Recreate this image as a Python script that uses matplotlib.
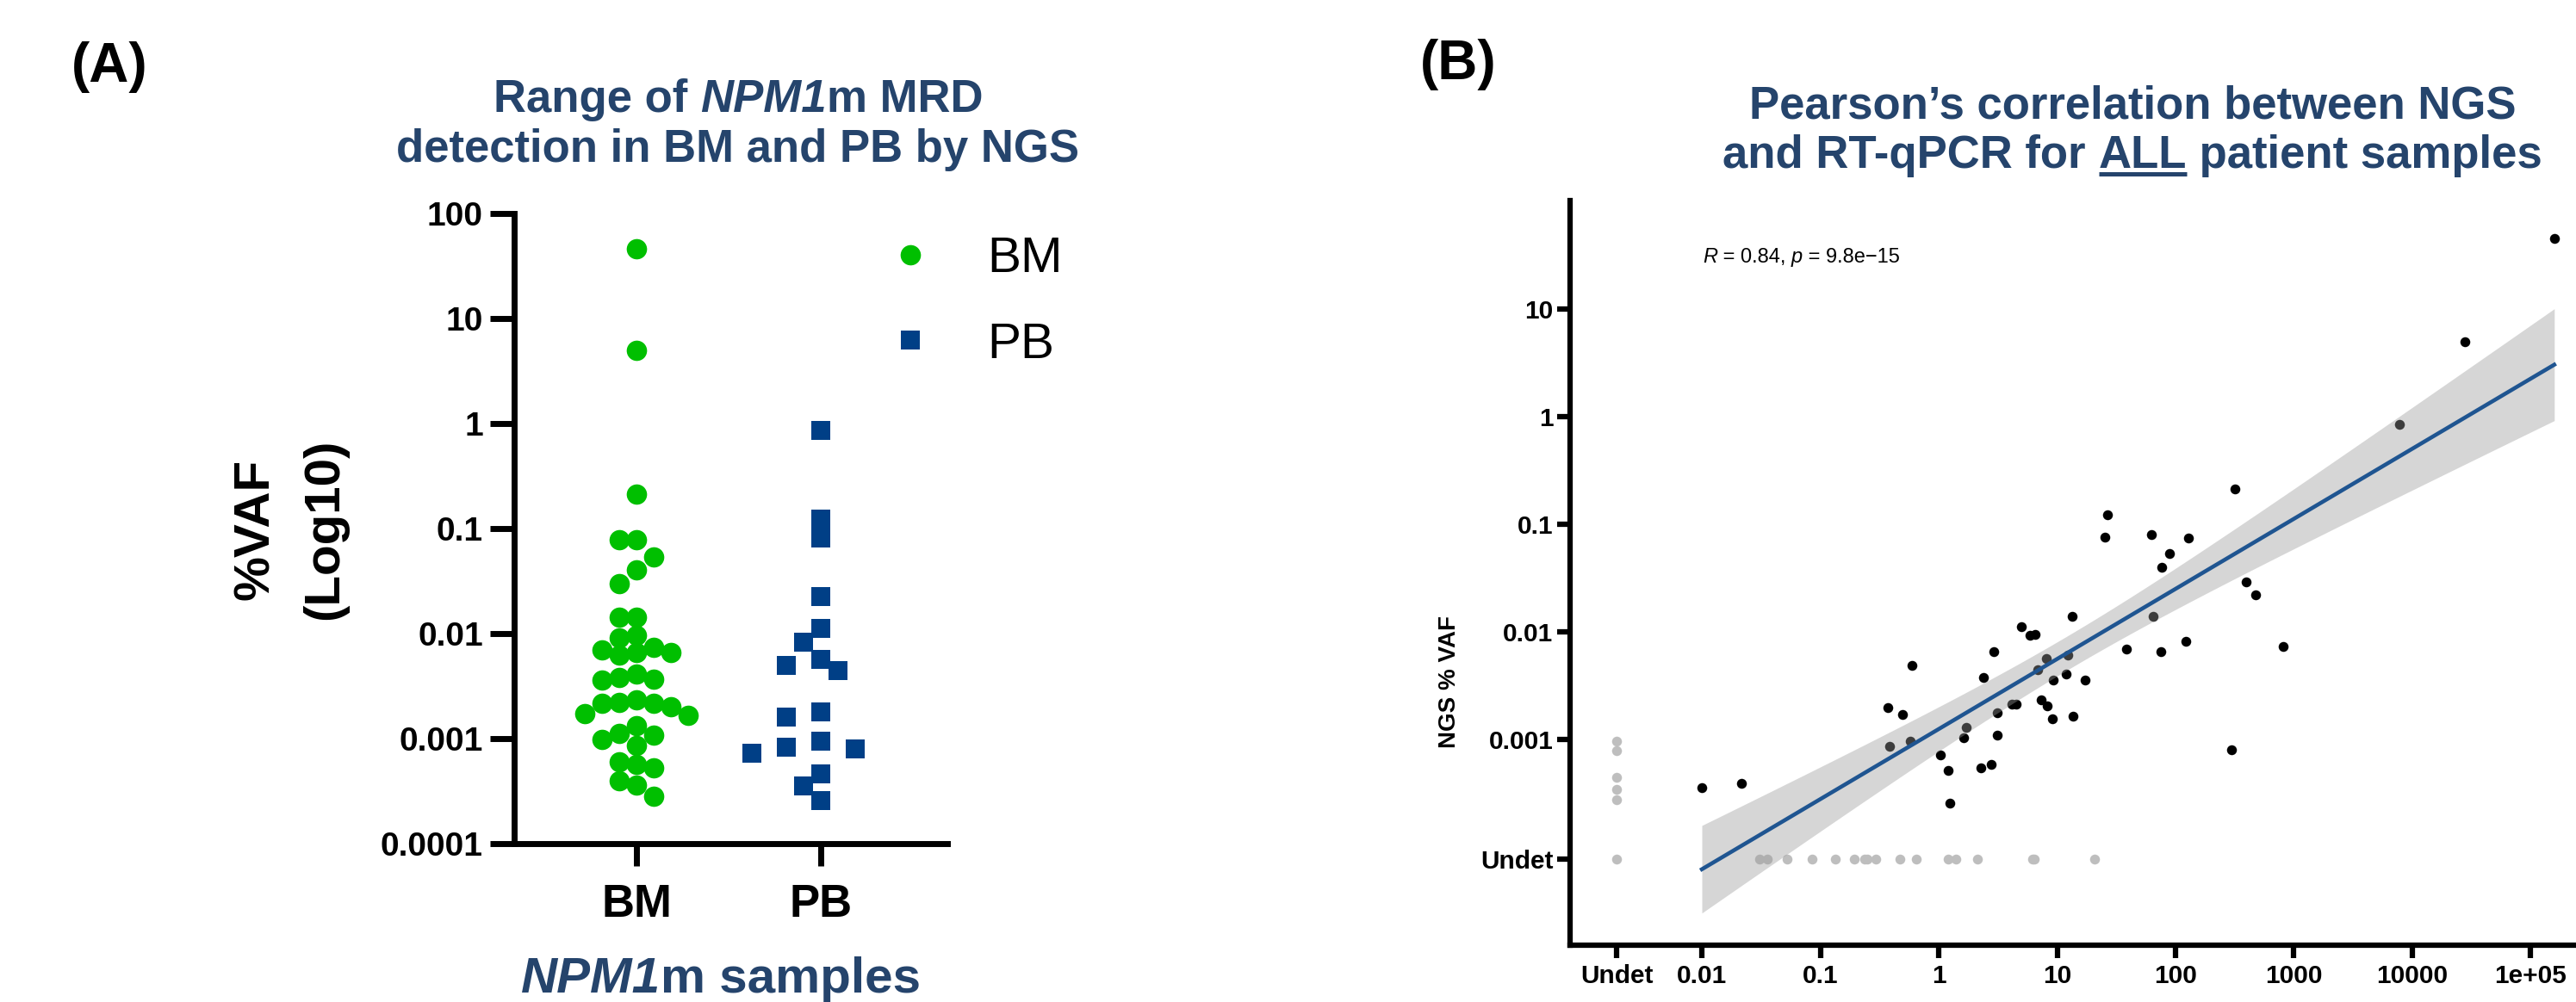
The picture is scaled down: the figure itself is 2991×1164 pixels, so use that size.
import numpy as np
import matplotlib
matplotlib.use("Agg")
import matplotlib.pyplot as plt
from matplotlib.lines import Line2D

plt.rcParams['font.family'] = ['Liberation Sans', 'DejaVu Sans']

W, H, DPI = 2991, 1164, 100

# ---------------- Panel A data (%VAF by NGS) ----------------
groups = ["BM", "PB"]
bm_vaf = [45.8, 4.94, 0.211, 0.0787, 0.0787, 0.054, 0.0407, 0.0297, 0.0142, 0.0142,
          0.00957, 0.00916, 0.00744, 0.00699, 0.00656, 0.00656, 0.00623,
          0.00409, 0.00379, 0.00365, 0.00360,
          0.00232, 0.00221, 0.00215, 0.00202, 0.00174, 0.00167, 0.00215,
          0.00132, 0.00111, 0.00108, 0.00099, 0.000865,
          0.000601, 0.000564, 0.000523, 0.000399, 0.000359, 0.000283]
pb_vaf = [0.859, 0.124, 0.0813, 0.0224, 0.0112, 0.00834, 0.00572, 0.00501, 0.00442,
          0.00178, 0.00159, 0.000944, 0.000822, 0.000798, 0.000726, 0.000458,
          0.000352, 0.000257]
yticks_a = [100, 10, 1, 0.1, 0.01, 0.001, 0.0001]
ytick_labels_a = ["100", "10", "1", "0.1", "0.01", "0.001", "0.0001"]

# ---------------- Panel B data (RT-qPCR vs NGS %VAF) ----------------
qpcr_det = [158000, 27700, 7780, 315, 26.7, 25.3, 62.5, 129, 89.3, 76.7, 395, 478, 65, 13.3,
            4.98, 5.87, 6.5, 2.92, 0.595, 38.6, 74.7, 123, 807, 8.07, 12.4, 6.84, 2.38, 12.0,
            9.3, 17.1, 0.372, 0.492, 7.3, 8.28, 4.17, 4.5, 3.11, 9.16, 13.6, 1.71, 1.63, 3.11,
            0.58, 0.386, 1.04, 1.21, 2.26, 2.77, 1.24, 296, 0.01, 0.0216]
ngs_det = [45.3, 5.0, 0.853, 0.211, 0.123, 0.0759, 0.0807, 0.074, 0.0531, 0.040, 0.0293, 0.0222,
           0.0140, 0.0140, 0.0111, 0.00924, 0.0095, 0.0065, 0.0049, 0.00688, 0.0065, 0.00816,
           0.00735, 0.00565, 0.00612, 0.00442, 0.00379, 0.00403, 0.00356, 0.00356, 0.00199,
           0.00171, 0.00232, 0.00207, 0.00214, 0.00214, 0.00176, 0.00156, 0.00165, 0.00129,
           0.00104, 0.00109, 0.000964, 0.000858, 0.000722, 0.000512, 0.000548, 0.00059,
           0.000254, 0.000807, 0.000355, 0.000388]
# NGS %VAF of samples with undetected RT-qPCR
ngs_qpcr_undet = [0.000964, 0.000787, 0.000445, 0.000344, 0.000275]
# RT-qPCR values of samples with undetected NGS
qpcr_ngs_undet = [0.0307, 0.0358, 0.0524, 0.0849, 0.133, 0.194, 0.235, 0.251, 0.292, 0.473,
                  0.650, 1.20, 1.40, 2.12, 6.18, 6.43, 20.7]
n_both_undet = 1
xticks_b = [0.01, 0.1, 1, 10, 100, 1000, 10000, 100000]
xtick_labels_b = ["0.01", "0.1", "1", "10", "100", "1000", "10000", "1e+05"]
yticks_b = [0.001, 0.01, 0.1, 1, 10]
ytick_labels_b = ["0.001", "0.01", "0.1", "1", "10"]
r_text = ("R", " = 0.84, ", "p", " = 9.8e\u221215")

# placement of the "Undet" category on the log axes
UNDET_X = 10 ** -2.72
UNDET_Y = 10 ** -4.112

GREEN = "#00BF00"
BLUE = "#003F86"
NAVY = "#25446C"

fig = plt.figure(figsize=(W / DPI, H / DPI), dpi=DPI)
renderer = fig.canvas.get_renderer()


def fx(px):
    return px / W


def fy(py):
    return 1 - py / H


def seg_text(x_px, base_px, segs, size, color, ha="center"):
    """segs: list of (text, bold, italic). Returns list of (x_start_px, width_px)."""
    items = []
    for s, b, it in segs:
        kw = dict(fontsize=size, fontweight="bold" if b else "normal",
                  fontstyle="italic" if it else "normal", color=color)
        m = fig.text(0, 0, "|" + s + "|", **kw)
        mb = fig.text(0, 0, "||", **kw)
        w = m.get_window_extent(renderer).width - mb.get_window_extent(renderer).width
        m.remove(); mb.remove()
        t = fig.text(0, 0, s, va="baseline", ha="left", **kw)
        items.append((t, w))
    total = sum(w for _, w in items)
    x0 = x_px - total / 2 if ha == "center" else x_px
    out = []
    for t, w in items:
        t.set_position((fx(x0), fy(base_px)))
        out.append((x0, w))
        x0 += w
    return out


# ======================= Panel A =======================
axA = fig.add_axes([fx(597), fy(980), fx(1100) - fx(597), fy(248) - fy(980)])
axA.set_yscale("log")
axA.set_ylim(1e-4, 100)
axA.set_xlim(-0.662, 1.683)
for s in ["top", "right"]:
    axA.spines[s].set_visible(False)
for s in ["left", "bottom"]:
    axA.spines[s].set_linewidth(5)
    axA.spines[s].set_capstyle("projecting")
axA.set_yticks(yticks_a)
axA.set_yticklabels(ytick_labels_a, fontsize=28, fontweight="bold")
axA.yaxis.set_minor_locator(matplotlib.ticker.NullLocator())
axA.set_xticks([0, 1])
axA.set_xticklabels(groups, fontsize=38, fontweight="bold")
axA.tick_params(axis="y", length=20, width=5, pad=6)
axA.tick_params(axis="x", length=19, width=5, pad=14)

px_per_unit = axA.transData.transform((1, 1))[0] - axA.transData.transform((0, 1))[0]


def swarm(vals, step, min_dist):
    ypix = np.array([axA.transData.transform((0, v))[1] for v in vals])
    order = np.argsort(-ypix)
    placed = []
    offs = np.zeros(len(vals))
    for i in order:
        for k in [0, -1, 1, -2, 2, -3, 3, -4, 4, -5, 5]:
            x = k * step
            if all((x - px) ** 2 + (ypix[i] - py) ** 2 >= min_dist ** 2 for px, py in placed):
                break
        offs[i] = x
        placed.append((x, ypix[i]))
    return offs / px_per_unit


bm_x = 0 + swarm(bm_vaf, 20, 20)
pb_x = 1 + swarm(pb_vaf, 20, 22)
axA.scatter(bm_x, bm_vaf, s=17 ** 2, marker="o", color=GREEN, linewidths=0, zorder=3, clip_on=False)
axA.scatter(pb_x, pb_vaf, s=16 ** 2, marker="s", color=BLUE, linewidths=0, zorder=3, clip_on=False)

handles = [Line2D([], [], marker="o", ls="none", color=GREEN, markersize=17, markeredgewidth=0),
           Line2D([], [], marker="s", ls="none", color=BLUE, markersize=16, markeredgewidth=0)]
fig.legend(handles, groups, loc="upper left", bbox_to_anchor=(fx(1028), fy(274)),
           frameon=False, fontsize=42, handlelength=1.0, handletextpad=1.03,
           labelspacing=0.78, borderpad=0, borderaxespad=0)

fig.text(fx(297), fy(615), "%VAF", rotation=90, ha="center", va="center", fontsize=42, fontweight="bold")
fig.text(fx(377), fy(615), "(Log10)", rotation=90, ha="center", va="center", fontsize=42, fontweight="bold")

seg_text(837, 1153, [("NPM1", True, True), ("m samples", True, False)], 42, NAVY)
seg_text(857, 130, [("Range of ", True, False), ("NPM1", True, True), ("m MRD", True, False)], 38, NAVY)
seg_text(857, 188, [("detection in BM and PB by NGS", True, False)], 38, NAVY)
fig.text(fx(127), fy(78), "(A)", ha="center", va="center", fontsize=46, fontweight="bold")

# ======================= Panel B =======================
axB = fig.add_axes([fx(1823), fy(1098), 1 - fx(1823), fy(233) - fy(1098)])
axB.set_xscale("log")
axB.set_yscale("log")
axB.set_xlim(10 ** -3.113, 10 ** 5.382)
axB.set_ylim(10 ** -4.912, 10 ** 2.008)
for s in ["top", "right"]:
    axB.spines[s].set_visible(False)
for s in ["left", "bottom"]:
    axB.spines[s].set_linewidth(4.5)
    axB.spines[s].set_capstyle("projecting")
axB.set_xticks([UNDET_X] + xticks_b)
axB.set_xticklabels(["Undet"] + xtick_labels_b, fontsize=21.5, fontweight="bold")
axB.set_yticks([UNDET_Y] + yticks_b)
axB.set_yticklabels(["Undet"] + ytick_labels_b, fontsize=21.5, fontweight="bold")
axB.xaxis.set_minor_locator(matplotlib.ticker.NullLocator())
axB.yaxis.set_minor_locator(matplotlib.ticker.NullLocator())
axB.tick_params(axis="both", length=11, width=4.5)
axB.tick_params(axis="y", pad=3)
axB.tick_params(axis="x", pad=5)

GREY_PT = "#BEBEBE"
axB.scatter([UNDET_X] * len(ngs_qpcr_undet), ngs_qpcr_undet, s=8.3 ** 2, color=GREY_PT, linewidths=0, zorder=2)
axB.scatter(qpcr_ngs_undet, [UNDET_Y] * len(qpcr_ngs_undet), s=8.3 ** 2, color=GREY_PT, linewidths=0, zorder=2)
axB.scatter([UNDET_X] * n_both_undet, [UNDET_Y] * n_both_undet, s=8.3 ** 2, color=GREY_PT, linewidths=0, zorder=2)
axB.scatter(qpcr_det, ngs_det, s=8.3 ** 2, color="black", linewidths=0, zorder=2, clip_on=False)

# linear fit on log10 scale with 95% confidence band (computed from the detected points)
lx = np.log10(qpcr_det)
ly = np.log10(ngs_det)
n = len(lx)
slope, icpt = np.polyfit(lx, ly, 1)
resid = ly - (slope * lx + icpt)
s_err = np.sqrt(np.sum(resid ** 2) / (n - 2))
sxx = np.sum((lx - lx.mean()) ** 2)
t_crit = 2.009
xg = np.linspace(lx.min(), lx.max(), 200)
yg = slope * xg + icpt
se = s_err * np.sqrt(1 / n + (xg - lx.mean()) ** 2 / sxx)
axB.fill_between(10 ** xg, 10 ** (yg - t_crit * se), 10 ** (yg + t_crit * se),
                 color="#999999", alpha=0.4, linewidth=0, zorder=3)
axB.plot(10 ** xg, 10 ** yg, color="#1F5591", lw=3.3, zorder=4)

fig.text(fx(1683), fy(792), "NGS % VAF", rotation=90, ha="center", va="center", fontsize=20, fontweight="bold")

seg_text(1977, 305, [(r_text[0], False, True), (r_text[1], False, False),
                     (r_text[2], False, True), (r_text[3], False, False)], 17, "black", ha="left")

seg_text(2476, 137, [("Pearson\u2019s correlation between NGS", True, False)], 38, NAVY)
parts = seg_text(2476, 195, [("and RT-qPCR for ", True, False), ("ALL", True, False),
                             (" patient samples", True, False)], 38, NAVY)
ux0, uw = parts[1]
fig.add_artist(Line2D([fx(ux0), fx(ux0 + uw)], [fy(201.5), fy(201.5)], color=NAVY, lw=3.6,
                      solid_capstyle="butt", transform=fig.transFigure))
fig.text(fx(1693), fy(75), "(B)", ha="center", va="center", fontsize=46, fontweight="bold")

fig.savefig("out.png", dpi=DPI)
